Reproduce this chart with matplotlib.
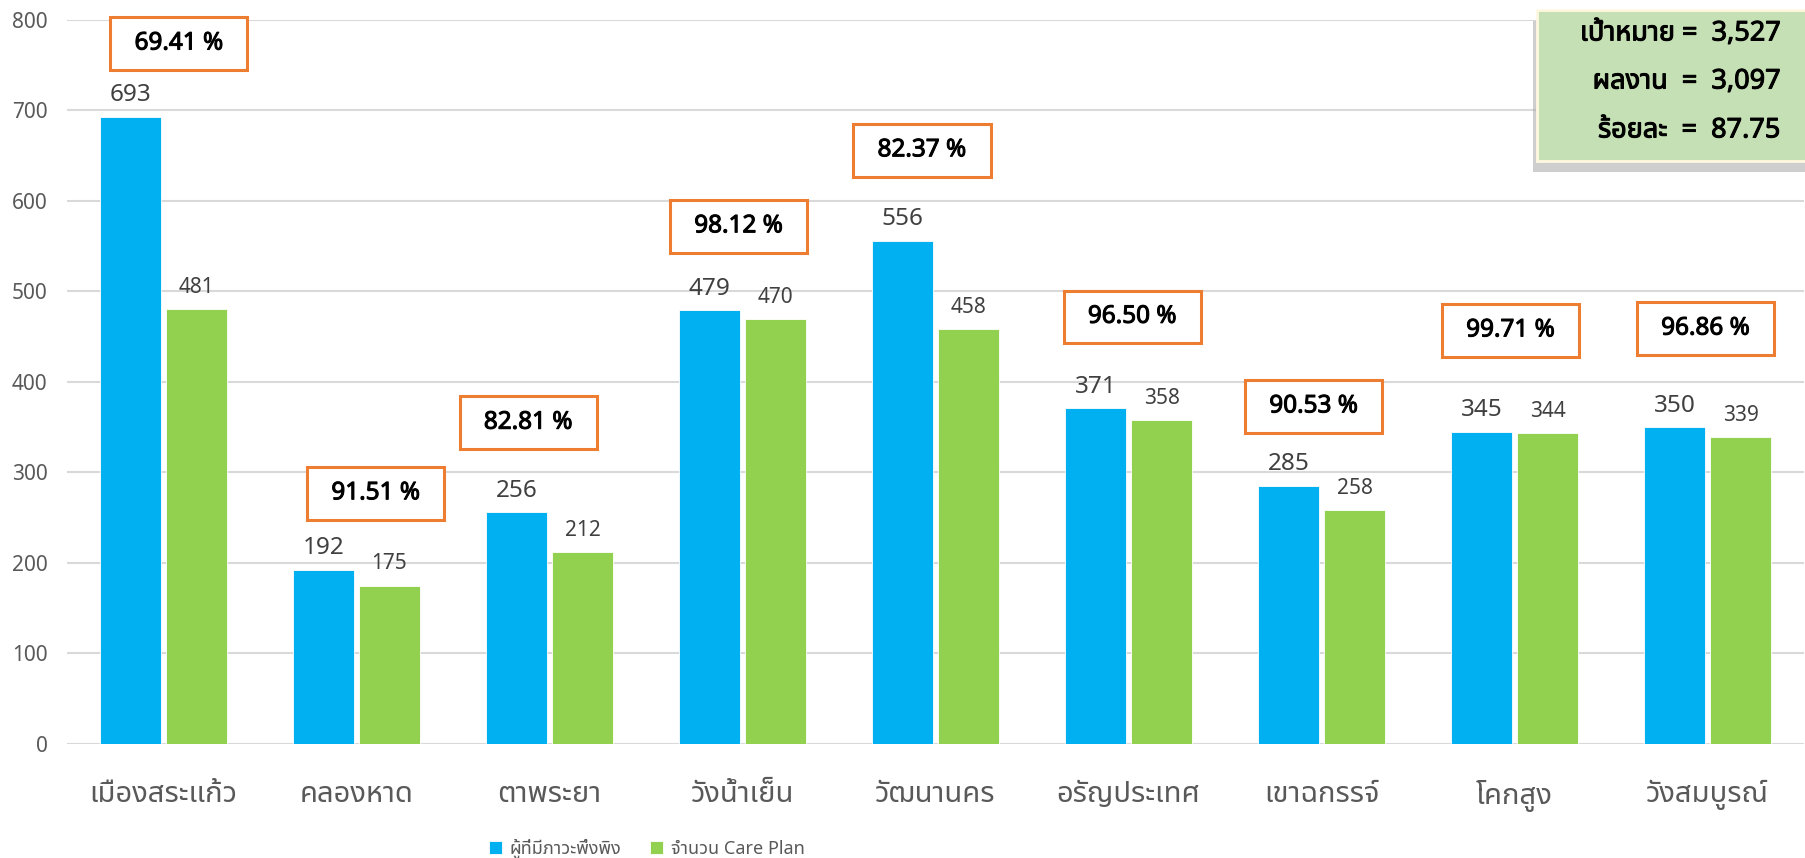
import matplotlib
matplotlib.use('Agg')
import matplotlib.pyplot as plt
from matplotlib import font_manager
from matplotlib.ft2font import FT2Font
from matplotlib.patches import Rectangle, FancyBboxPatch
import matplotlib.patheffects as pe
import numpy as np

# ข้อมูล
districts = ['เมืองสระแก้ว', 'คลองหาด', 'ตาพระยา', 'วังน้ำเย็น', 'วัฒนานคร',
             'อรัญประเทศ', 'เขาฉกรรจ์', 'โคกสูง', 'วังสมบูรณ์']
dependent = [693, 192, 256, 479, 556, 371, 285, 345, 350]
care_plan = [481, 175, 212, 470, 458, 358, 258, 344, 339]
percent_labels = ['69.41 %', '91.51 %', '82.81 %', '98.12 %', '82.37 %',
                  '96.50 %', '90.53 %', '99.71 %', '96.86 %']
series_names = ['ผู้ที่มีภาวะพึ่งพิง', 'จำนวน Care Plan']
summary_lines = ['เป้าหมาย =  3,527', 'ผลงาน  =  3,097', 'ร้อยละ  =  87.75']

# where the orange boxes sit (x offset from group centre, y in data units)
pct_box_dx = [0.08, 0.10, -0.11, -0.02, -0.07, 0.02, -0.04, -0.02, -0.01]
pct_box_y = [774, 277, 355, 572, 656, 472, 373, 457, 459]


def find_thai_font():
    '''look through the installed fonts for one that has Thai glyphs'''
    found = []
    for f in font_manager.fontManager.ttflist:
        try:
            cmap = FT2Font(f.fname).get_charmap()
        except Exception:
            continue
        if 0x0E01 in cmap and 0x0E49 in cmap:
            found.append(f.name)
    for pref in ['Tahoma', 'Leelawadee UI', 'Leelawadee', 'Noto Sans Thai',
                 'Noto Sans Thai UI', 'Loma', 'Garuda', 'Norasi']:
        if pref in found:
            return pref
    if found:
        return found[0]
    return None


thai = find_thai_font()
families = ['Noto Sans', 'DejaVu Sans']
if thai:
    families = [thai] + families
plt.rcParams['font.family'] = families
num_font = ['Noto Sans', 'DejaVu Sans']

BLUE = '#00B0F0'
GREEN = '#92D050'
ORANGE = '#ED7D31'
GRAY = '#595959'
# the fonts here have no bold face, so thicken the strokes a little
fake_bold = [pe.withStroke(linewidth=0.75, foreground='black')]

fig = plt.figure(figsize=(18.06, 8.58), dpi=100)
ax = fig.add_axes([0.0371, 0.1329, 0.9618, 0.8438])

x = np.arange(len(districts))
w = 0.315
off = 0.171
b1 = ax.bar(x - off, dependent, w, color=BLUE, edgecolor='white', linewidth=0.6,
            label=series_names[0], zorder=2)
b2 = ax.bar(x + off, care_plan, w, color=GREEN, edgecolor='white', linewidth=0.6,
            label=series_names[1], zorder=2)

for r, v in zip(b1, dependent):
    ax.annotate(str(v), (r.get_x() + r.get_width() / 2, v), xytext=(0, 7),
                textcoords='offset points', ha='center', va='bottom',
                fontsize=17.5, color='#404040')
for r, v in zip(b2, care_plan):
    ax.annotate(str(v), (r.get_x() + r.get_width() / 2, v), xytext=(0, 8),
                textcoords='offset points', ha='center', va='bottom',
                fontsize=15, color='#404040')

# กล่องเปอร์เซ็นต์สีส้ม
bw, bh = 0.71, 58
for i, lab in enumerate(percent_labels):
    cx = x[i] + pct_box_dx[i]
    cy = pct_box_y[i]
    ax.add_patch(Rectangle((cx - bw / 2, cy - bh / 2), bw, bh, facecolor='white',
                           edgecolor=ORANGE, linewidth=2.2, zorder=4, clip_on=False))
    ax.text(cx, cy, lab, ha='center', va='center', fontsize=17.5, fontweight='bold',
            family=num_font, color='black', zorder=5, clip_on=False,
            path_effects=fake_bold)

ax.set_xlim(-0.5, len(districts) - 0.5)
ax.set_ylim(0, 800)
ax.set_yticks(range(0, 801, 100))
ax.set_xticks(x)
ax.set_xticklabels(districts, fontsize=21, color=GRAY)
ax.tick_params(axis='y', labelsize=15, labelcolor=GRAY, length=0, pad=14)
ax.tick_params(axis='x', length=0, pad=26)
ax.yaxis.grid(True, color='#D9D9D9', linewidth=1.5, zorder=0)
ax.set_axisbelow(True)
for s in ax.spines.values():
    s.set_visible(False)

leg = fig.legend(handles=[b1, b2], loc='center', bbox_to_anchor=(0.358, 0.011),
                 ncol=2, frameon=False, fontsize=13, handlelength=0.75,
                 handleheight=0.75, columnspacing=1.6, handletextpad=0.4)
for t in leg.get_texts():
    t.set_color(GRAY)

# กล่องสรุปมุมขวาบน
box = FancyBboxPatch((0.851, 0.812), 0.16, 0.176, boxstyle='square,pad=0',
                     transform=fig.transFigure, facecolor='#C5E0B4',
                     edgecolor='#FFF8E1', linewidth=2, zorder=10)
shadow = FancyBboxPatch((0.849, 0.800), 0.165, 0.176, boxstyle='square,pad=0',
                        transform=fig.transFigure, facecolor='#A6A6A6',
                        edgecolor='none', alpha=0.55, zorder=9)
fig.patches.extend([shadow, box])
ys = [0.961, 0.905, 0.848]
for line, yy in zip(summary_lines, ys):
    fig.text(0.986, yy, line, ha='right', va='center', fontsize=19.5,
             fontweight='bold', color='black', zorder=11, path_effects=fake_bold)

fig.savefig('out.png', dpi=100)
